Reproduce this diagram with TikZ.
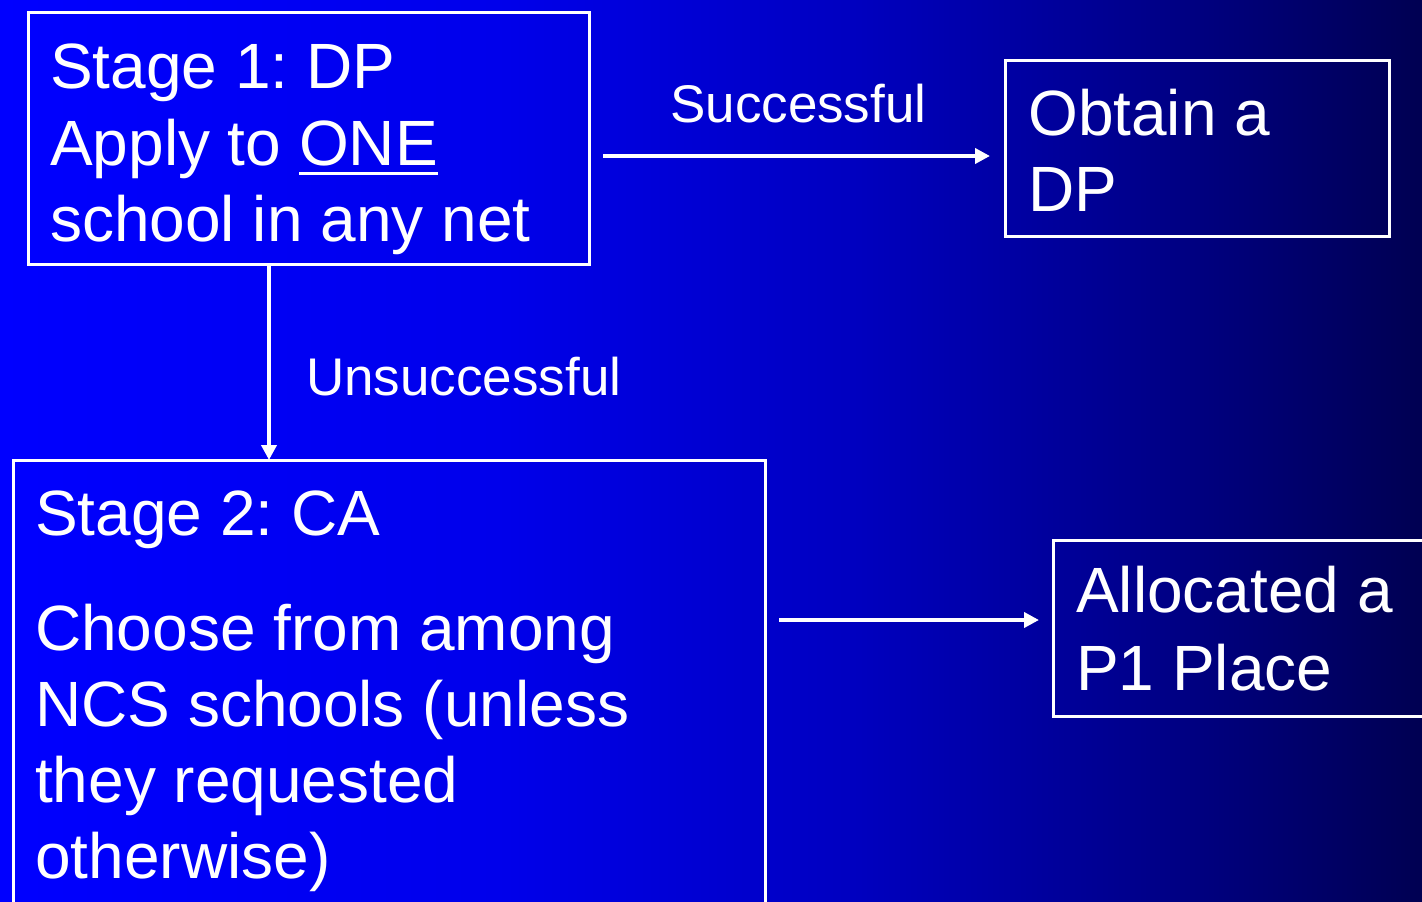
\documentclass[tikz,border=0pt]{standalone}
\usepackage{fontspec}
\setmainfont{Liberation Sans}
\frenchspacing
\usetikzlibrary{arrows.meta}
\definecolor{bgA}{RGB}{0,0,255}
\definecolor{bgB}{RGB}{0,0,235}
\definecolor{bgC}{RGB}{0,0,192}
\definecolor{bgD}{RGB}{0,0,140}
\definecolor{bgE}{RGB}{0,0,82}
\pgfdeclarehorizontalshading{bgshade}{100bp}{color(0bp)=(bgA); color(25bp)=(bgA); color(42.5bp)=(bgB); color(55bp)=(bgC); color(65bp)=(bgD); color(75bp)=(bgE); color(100bp)=(bgE)}
\begin{document}
\begin{tikzpicture}[x=1pt,y=-1pt,
  box/.style={draw=white,line width=3pt},
  big/.style={text=white,inner sep=0pt,anchor=base west,font=\fontsize{64}{77}\selectfont},
  small/.style={text=white,inner sep=0pt,anchor=base west,font=\fontsize{53}{64}\selectfont},
  arr/.style={draw=white,line width=4pt,-{Triangle[length=15pt,width=15pt]}}]
\useasboundingbox (0,0) rectangle (1422,902);
\shade[shading=bgshade] (0,0) rectangle (1422,902);
% boxes
\draw[box] (28,12) rectangle (589,264);
\draw[box] (1005,60) rectangle (1389,236);
\draw[box] (13,460) rectangle (765,910);
\draw[box] (1053,540) rectangle (1430,716);
\coordinate (b1s) at (269,264);
\coordinate (b3n) at (269,460);
\coordinate (a1s) at (603,156);
\coordinate (a1e) at (990,156);
\coordinate (a3s) at (779,620);
\coordinate (a3e) at (1039,620);
% box 1 text
\node[big] (s1) at (50,88) {Stage 1: DP};
\node[big] (ap) at (50,165) {Apply to};
\node[big] (one) at (299,165) {ONE};
\draw[white,line width=3pt] ([yshift=-8pt]one.base west) -- ([yshift=-8pt]one.base east);
\node[big] (sc) at (50,241) {school in any net};
% box 2 text
\node[big] (ob) at (1028,135) {Obtain a};
\node[big] (dp) at (1028,211) {DP};
% box 3 text
\node[big] (s2) at (35,535) {Stage 2: CA};
\node[big] (ch) at (35,650) {Choose from among};
\node[big] (nc) at (35,726) {NCS schools (unless};
\node[big] (th) at (35,802) {they requested};
\node[big] (ot) at (35,878) {otherwise)};
% box 4 text
\node[big] (al) at (1076,612) {Allocated a};
\node[big] (p1) at (1076,690) {P1 Place};
% labels
\node[small] (succ) at (670,122) {Successful};
\node[small] (uns) at (306,395) {Unsuccessful};
% arrows
\draw[arr] (a1s) -- (a1e);
\draw[arr] (b1s) -- (b3n);
\draw[arr] (a3s) -- (a3e);
\end{tikzpicture}
\end{document}
